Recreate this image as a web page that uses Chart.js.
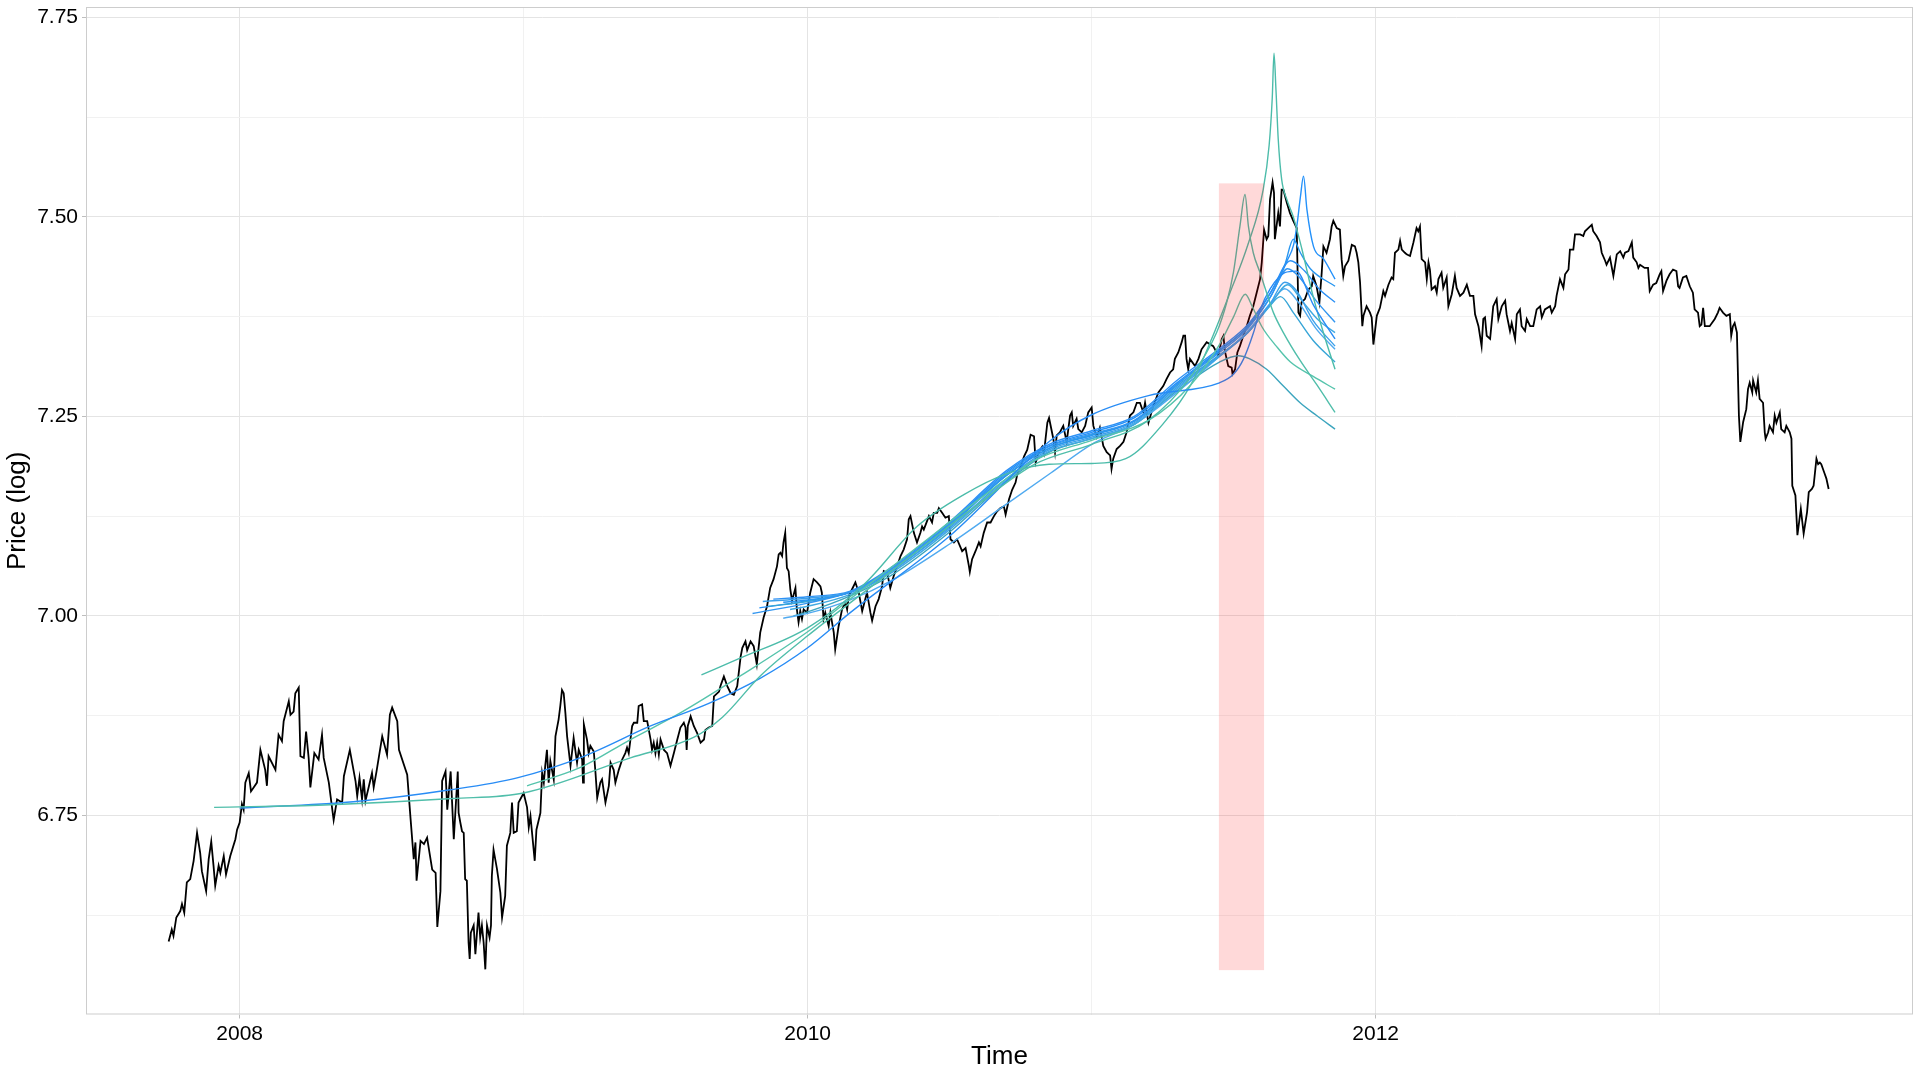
<!DOCTYPE html>
<html>
<head>
<meta charset="utf-8">
<script src="https://cdn.jsdelivr.net/npm/chart.js@4.4.1/dist/chart.umd.min.js"></script>
<style>
  html, body { margin: 0; padding: 0; background: #fff; }
  #wrap { width: 1920px; height: 1080px; }
</style>
</head>
<body>
<div id="wrap"><canvas id="myChart" width="1920" height="1080"></canvas></div>
<script>
// axis limits and ticks
const xLimits = [2007.459, 2013.892];
const yLimits = [6.5004, 7.763];
const xMajorTicks = [2008, 2010, 2012];
const xMinorTicks = [2009, 2011, 2013];
const yMajorTicks = [6.75, 7.00, 7.25, 7.50, 7.75];
const yMinorTicks = [6.625, 6.875, 7.125, 7.375, 7.625];

// shaded window (time, log price)
const shadeX = [2011.448, 2011.607];
const shadeY = [6.556, 7.542];

// observed log price, [time, value]
const price2007 = [[2007.750,6.592],[2007.761,6.607],[2007.767,6.599],[2007.777,6.622],[2007.791,6.630],[2007.797,6.639],[2007.805,6.628],[2007.814,6.666],[2007.826,6.670],[2007.838,6.693],[2007.850,6.728],[2007.861,6.703],[2007.867,6.680],[2007.882,6.655],[2007.891,6.695],[2007.900,6.717],[2007.908,6.687],[2007.914,6.662],[2007.926,6.687],[2007.932,6.678],[2007.944,6.699],[2007.952,6.676],[2007.967,6.699],[2007.985,6.720],[2007.991,6.732]];
const price2008 = [[2008.000,6.741],[2008.008,6.764],[2008.014,6.757],[2008.020,6.791],[2008.032,6.803],[2008.040,6.780],[2008.061,6.791],[2008.073,6.832],[2008.090,6.807],[2008.096,6.787],[2008.102,6.824],[2008.126,6.807],[2008.137,6.851],[2008.149,6.843],[2008.155,6.868],[2008.173,6.893],[2008.179,6.876],[2008.190,6.880],[2008.196,6.903],[2008.208,6.910],[2008.214,6.824],[2008.226,6.822],[2008.234,6.855],[2008.243,6.822],[2008.249,6.785],[2008.263,6.828],[2008.278,6.820],[2008.290,6.851],[2008.296,6.822],[2008.314,6.791],[2008.331,6.744],[2008.343,6.770],[2008.361,6.766],[2008.367,6.799],[2008.388,6.832],[2008.408,6.793],[2008.414,6.774],[2008.422,6.797],[2008.431,6.770],[2008.437,6.795],[2008.443,6.768],[2008.466,6.803],[2008.472,6.785],[2008.482,6.805],[2008.502,6.849],[2008.519,6.826],[2008.529,6.876],[2008.537,6.885],[2008.555,6.868],[2008.561,6.832],[2008.590,6.801],[2008.602,6.745],[2008.613,6.695],[2008.619,6.716],[2008.623,6.668],[2008.637,6.718],[2008.649,6.714],[2008.660,6.722],[2008.678,6.682],[2008.690,6.678],[2008.696,6.610],[2008.707,6.655],[2008.713,6.793],[2008.725,6.805],[2008.731,6.757],[2008.743,6.805],[2008.754,6.720],[2008.768,6.805],[2008.771,6.753],[2008.777,6.741],[2008.783,6.730],[2008.789,6.728],[2008.794,6.670],[2008.800,6.668],[2008.806,6.591],[2008.810,6.570],[2008.814,6.603],[2008.824,6.612],[2008.830,6.576],[2008.841,6.628],[2008.847,6.597],[2008.853,6.612],[2008.859,6.591],[2008.865,6.557],[2008.871,6.612],[2008.880,6.597],[2008.885,6.612],[2008.888,6.674],[2008.894,6.707],[2008.906,6.683],[2008.918,6.653],[2008.924,6.622],[2008.935,6.649],[2008.941,6.712],[2008.953,6.728],[2008.959,6.766],[2008.965,6.728],[2008.976,6.730],[2008.982,6.766]];
const price2009 = [[2009.000,6.778],[2009.012,6.760],[2009.018,6.735],[2009.024,6.749],[2009.039,6.693],[2009.045,6.732],[2009.059,6.753],[2009.065,6.803],[2009.071,6.791],[2009.076,6.812],[2009.082,6.832],[2009.088,6.791],[2009.094,6.818],[2009.106,6.795],[2009.112,6.849],[2009.123,6.870],[2009.129,6.887],[2009.135,6.907],[2009.141,6.903],[2009.147,6.878],[2009.153,6.849],[2009.165,6.812],[2009.176,6.847],[2009.188,6.816],[2009.194,6.832],[2009.206,6.820],[2009.209,6.791],[2009.212,6.864],[2009.223,6.845],[2009.229,6.828],[2009.235,6.837],[2009.247,6.830],[2009.253,6.803],[2009.259,6.772],[2009.270,6.791],[2009.276,6.795],[2009.288,6.766],[2009.300,6.787],[2009.306,6.816],[2009.317,6.807],[2009.323,6.791],[2009.335,6.807],[2009.347,6.820],[2009.358,6.828],[2009.364,6.835],[2009.370,6.828],[2009.382,6.862],[2009.388,6.866],[2009.400,6.866],[2009.405,6.887],[2009.417,6.889],[2009.423,6.868],[2009.435,6.868],[2009.447,6.845],[2009.452,6.832],[2009.458,6.841],[2009.464,6.828],[2009.470,6.841],[2009.476,6.826],[2009.482,6.845],[2009.494,6.832],[2009.505,6.828],[2009.517,6.812],[2009.529,6.828],[2009.541,6.845],[2009.552,6.860],[2009.564,6.866],[2009.570,6.860],[2009.574,6.832],[2009.578,6.862],[2009.588,6.874],[2009.599,6.862],[2009.611,6.853],[2009.623,6.841],[2009.635,6.845],[2009.640,6.857],[2009.652,6.860],[2009.664,6.862],[2009.670,6.899],[2009.688,6.905],[2009.693,6.912],[2009.705,6.924],[2009.717,6.912],[2009.729,6.903],[2009.740,6.901],[2009.752,6.912],[2009.764,6.949],[2009.770,6.960],[2009.781,6.968],[2009.787,6.957],[2009.799,6.968],[2009.810,6.962],[2009.821,6.939],[2009.833,6.979],[2009.845,6.998],[2009.857,7.012],[2009.868,7.035],[2009.880,7.046],[2009.892,7.062],[2009.898,7.077],[2009.904,7.079],[2009.910,7.075],[2009.915,7.092],[2009.921,7.104],[2009.927,7.060],[2009.933,7.056],[2009.939,7.033],[2009.945,7.019],[2009.957,7.035],[2009.962,7.008],[2009.968,6.992],[2009.974,7.006],[2009.980,6.996],[2009.986,7.008],[2009.998,7.004]];
const price2010 = [[2010.009,7.029],[2010.021,7.046],[2010.033,7.042],[2010.045,7.037],[2010.050,7.029],[2010.056,6.996],[2010.062,7.004],[2010.074,6.987],[2010.080,7.004],[2010.092,6.979],[2010.097,6.958],[2010.109,6.987],[2010.121,7.008],[2010.133,7.017],[2010.139,7.008],[2010.145,7.025],[2010.156,7.033],[2010.168,7.042],[2010.180,7.029],[2010.192,7.006],[2010.203,7.021],[2010.209,7.029],[2010.221,7.004],[2010.227,6.994],[2010.239,7.012],[2010.250,7.021],[2010.262,7.037],[2010.268,7.056],[2010.280,7.054],[2010.291,7.035],[2010.303,7.050],[2010.315,7.062],[2010.327,7.075],[2010.338,7.083],[2010.350,7.096],[2010.356,7.121],[2010.362,7.125],[2010.374,7.104],[2010.385,7.092],[2010.397,7.104],[2010.403,7.112],[2010.409,7.108],[2010.427,7.125],[2010.438,7.117],[2010.444,7.129],[2010.456,7.129],[2010.462,7.135],[2010.474,7.129],[2010.485,7.123],[2010.497,7.125],[2010.503,7.096],[2010.515,7.092],[2010.526,7.096],[2010.544,7.081],[2010.556,7.085],[2010.568,7.062],[2010.571,7.055],[2010.579,7.071],[2010.591,7.081],[2010.603,7.092],[2010.609,7.087],[2010.620,7.104],[2010.632,7.117],[2010.644,7.117],[2010.656,7.125],[2010.667,7.131],[2010.679,7.135],[2010.691,7.137],[2010.697,7.127],[2010.709,7.146],[2010.720,7.158],[2010.732,7.167],[2010.738,7.177],[2010.750,7.187],[2010.762,7.200],[2010.773,7.208],[2010.785,7.227],[2010.797,7.225],[2010.803,7.192],[2010.815,7.206],[2010.826,7.212],[2010.832,7.204],[2010.844,7.242],[2010.850,7.248],[2010.865,7.222],[2010.871,7.205],[2010.877,7.226],[2010.888,7.230],[2010.900,7.238],[2010.912,7.218],[2010.924,7.251],[2010.930,7.255],[2010.935,7.238],[2010.947,7.247],[2010.953,7.234],[2010.965,7.230],[2010.977,7.238],[2010.988,7.255]];
const price2011 = [[2011.000,7.261],[2011.006,7.238],[2011.018,7.224],[2011.029,7.236],[2011.041,7.213],[2011.053,7.205],[2011.065,7.201],[2011.070,7.184],[2011.076,7.197],[2011.088,7.209],[2011.100,7.213],[2011.112,7.218],[2011.123,7.230],[2011.135,7.251],[2011.147,7.255],[2011.159,7.267],[2011.170,7.267],[2011.182,7.255],[2011.188,7.267],[2011.200,7.242],[2011.217,7.263],[2011.235,7.280],[2011.252,7.288],[2011.264,7.297],[2011.276,7.305],[2011.287,7.309],[2011.293,7.322],[2011.305,7.330],[2011.317,7.343],[2011.323,7.351],[2011.329,7.351],[2011.334,7.322],[2011.340,7.309],[2011.346,7.322],[2011.364,7.313],[2011.376,7.322],[2011.387,7.334],[2011.405,7.343],[2011.428,7.338],[2011.446,7.326],[2011.458,7.347],[2011.464,7.351],[2011.469,7.332],[2011.481,7.313],[2011.493,7.311],[2011.496,7.303],[2011.505,7.309],[2011.513,7.330],[2011.522,7.338],[2011.534,7.351],[2011.546,7.363],[2011.557,7.376],[2011.569,7.388],[2011.581,7.405],[2011.593,7.422],[2011.599,7.443],[2011.607,7.484],[2011.616,7.472],[2011.622,7.476],[2011.628,7.522],[2011.637,7.543],[2011.642,7.530],[2011.645,7.472],[2011.657,7.505],[2011.663,7.488],[2011.669,7.534],[2011.675,7.534],[2011.687,7.518],[2011.698,7.505],[2011.710,7.495],[2011.722,7.486],[2011.728,7.380],[2011.734,7.376],[2011.739,7.393],[2011.751,7.397],[2011.763,7.409],[2011.775,7.413],[2011.780,7.426],[2011.792,7.413],[2011.802,7.393],[2011.810,7.430],[2011.816,7.463],[2011.827,7.455],[2011.839,7.472],[2011.845,7.488],[2011.851,7.495],[2011.863,7.486],[2011.874,7.484],[2011.880,7.447],[2011.886,7.426],[2011.892,7.438],[2011.904,7.445],[2011.916,7.465],[2011.927,7.463],[2011.933,7.455],[2011.939,7.443],[2011.945,7.418],[2011.953,7.363],[2011.957,7.376],[2011.968,7.388],[2011.980,7.380],[2011.986,7.374],[2011.992,7.340]];
const price2012 = [[2012.004,7.376],[2012.015,7.386],[2012.027,7.407],[2012.033,7.401],[2012.045,7.415],[2012.056,7.424],[2012.062,7.422],[2012.068,7.455],[2012.080,7.459],[2012.086,7.470],[2012.092,7.459],[2012.103,7.455],[2012.109,7.453],[2012.121,7.451],[2012.133,7.468],[2012.144,7.486],[2012.150,7.482],[2012.156,7.488],[2012.162,7.447],[2012.174,7.443],[2012.180,7.422],[2012.186,7.443],[2012.191,7.434],[2012.197,7.409],[2012.209,7.413],[2012.215,7.405],[2012.221,7.422],[2012.232,7.430],[2012.238,7.411],[2012.250,7.424],[2012.256,7.388],[2012.268,7.403],[2012.279,7.426],[2012.285,7.411],[2012.297,7.401],[2012.309,7.405],[2012.321,7.415],[2012.332,7.401],[2012.344,7.401],[2012.350,7.378],[2012.362,7.363],[2012.373,7.338],[2012.379,7.372],[2012.385,7.374],[2012.391,7.351],[2012.403,7.347],[2012.414,7.388],[2012.426,7.397],[2012.432,7.372],[2012.444,7.388],[2012.456,7.395],[2012.461,7.378],[2012.473,7.357],[2012.479,7.367],[2012.491,7.347],[2012.497,7.378],[2012.508,7.384],[2012.514,7.363],[2012.526,7.357],[2012.532,7.372],[2012.544,7.363],[2012.555,7.363],[2012.567,7.384],[2012.579,7.388],[2012.585,7.374],[2012.596,7.384],[2012.614,7.388],[2012.620,7.380],[2012.632,7.388],[2012.637,7.401],[2012.649,7.422],[2012.661,7.411],[2012.667,7.428],[2012.679,7.434],[2012.684,7.459],[2012.696,7.459],[2012.702,7.478],[2012.720,7.478],[2012.731,7.476],[2012.737,7.482],[2012.755,7.488],[2012.761,7.490],[2012.766,7.482],[2012.778,7.476],[2012.790,7.468],[2012.796,7.455],[2012.808,7.445],[2012.813,7.440],[2012.825,7.449],[2012.837,7.426],[2012.849,7.453],[2012.861,7.457],[2012.872,7.449],[2012.878,7.455],[2012.890,7.457],[2012.902,7.468],[2012.907,7.449],[2012.919,7.443],[2012.925,7.436],[2012.931,7.440],[2012.947,7.436],[2012.959,7.436],[2012.965,7.407],[2012.977,7.415],[2012.988,7.417]];
const price2013 = [[2013.000,7.428],[2013.006,7.432],[2013.012,7.407],[2013.024,7.420],[2013.035,7.428],[2013.047,7.434],[2013.059,7.432],[2013.065,7.413],[2013.070,7.411],[2013.082,7.424],[2013.094,7.426],[2013.106,7.413],[2013.117,7.405],[2013.123,7.384],[2013.135,7.380],[2013.141,7.363],[2013.147,7.365],[2013.153,7.386],[2013.159,7.363],[2013.176,7.363],[2013.194,7.372],[2013.205,7.380],[2013.211,7.386],[2013.223,7.380],[2013.235,7.376],[2013.247,7.378],[2013.252,7.351],[2013.258,7.363],[2013.264,7.367],[2013.272,7.355],[2013.279,7.251],[2013.284,7.218],[2013.294,7.243],[2013.305,7.259],[2013.311,7.284],[2013.317,7.292],[2013.326,7.280],[2013.329,7.295],[2013.340,7.280],[2013.346,7.295],[2013.352,7.272],[2013.364,7.267],[2013.370,7.230],[2013.373,7.222],[2013.382,7.230],[2013.387,7.238],[2013.399,7.230],[2013.405,7.251],[2013.411,7.242],[2013.423,7.255],[2013.428,7.234],[2013.440,7.230],[2013.446,7.238],[2013.458,7.230],[2013.464,7.222],[2013.467,7.163],[2013.478,7.151],[2013.485,7.101],[2013.497,7.134],[2013.507,7.103],[2013.519,7.130],[2013.525,7.155],[2013.536,7.159],[2013.542,7.163],[2013.552,7.197],[2013.558,7.190],[2013.564,7.192],[2013.569,7.190],[2013.581,7.178],[2013.587,7.172],[2013.595,7.159]];

// fitted trajectories, [time, value]
const fitTeal1 = [[2007.91,6.760],[2008.3,6.763],[2008.75,6.771],[2009.0,6.778],[2009.376,6.822],[2009.6,6.848],[2009.7,6.873],[2009.834,6.925],[2010.0,6.975],[2010.2,7.03],[2010.4,7.085],[2010.6,7.14],[2010.8,7.19],[2011.0,7.215],[2011.2,7.245],[2011.35,7.30],[2011.44,7.355],[2011.475,7.392],[2011.499,7.43],[2011.522,7.488],[2011.540,7.528],[2011.552,7.488],[2011.569,7.455],[2011.593,7.43],[2011.616,7.405],[2011.64,7.38],[2011.675,7.355],[2011.734,7.32],[2011.792,7.29],[2011.857,7.255]];
const fitBlue0 = [[2008.0,6.759],[2008.4,6.767],[2008.742,6.782],[2008.977,6.797],[2009.212,6.824],[2009.447,6.862],[2009.65,6.89],[2009.834,6.922],[2010.0,6.96],[2010.15,7.004],[2010.5,7.10],[2010.856,7.22],[2011.0,7.252],[2011.2,7.276],[2011.45,7.292],[2011.50,7.303],[2011.535,7.322],[2011.57,7.355],[2011.594,7.384],[2011.629,7.41],[2011.68,7.43],[2011.72,7.432],[2011.78,7.39],[2011.857,7.347]];
const fitTeal2 = [[2009.012,6.787],[2009.2,6.81],[2009.376,6.845],[2009.55,6.878],[2009.76,6.924],[2010.0,6.98],[2010.2,7.035],[2010.4,7.09],[2010.6,7.145],[2010.8,7.195],[2011.0,7.22],[2011.2,7.245],[2011.35,7.29],[2011.45,7.34],[2011.5,7.375],[2011.541,7.403],[2011.565,7.388],[2011.6,7.362],[2011.65,7.338],[2011.7,7.318],[2011.78,7.30],[2011.857,7.284]];
const fitTeal3 = [[2009.626,6.926],[2009.762,6.947],[2010.0,6.985],[2010.2,7.04],[2010.385,7.112],[2010.55,7.152],[2010.7,7.178],[2010.85,7.19],[2011.0,7.191],[2011.12,7.197],[2011.25,7.24],[2011.35,7.29],[2011.42,7.345],[2011.487,7.405],[2011.55,7.465],[2011.604,7.534],[2011.625,7.59],[2011.636,7.65],[2011.642,7.705],[2011.649,7.659],[2011.657,7.597],[2011.669,7.547],[2011.687,7.522],[2011.71,7.50],[2011.74,7.46],[2011.78,7.40],[2011.82,7.35],[2011.857,7.309]];
const fitBlue1 = [[2009.806,7.003],[2010.0,7.016],[2010.15,7.03],[2010.3,7.06],[2010.5,7.115],[2010.7,7.178],[2010.85,7.212],[2011.0,7.228],[2011.15,7.245],[2011.3,7.29],[2011.45,7.33],[2011.55,7.36],[2011.63,7.40],[2011.69,7.435],[2011.73,7.425],[2011.79,7.395],[2011.857,7.368]];
const fitBlue2 = [[2009.842,7.018],[2010.0,7.022],[2010.15,7.03],[2010.3,7.058],[2010.5,7.11],[2010.7,7.172],[2010.85,7.208],[2011.0,7.224],[2011.15,7.242],[2011.3,7.286],[2011.45,7.326],[2011.55,7.355],[2011.63,7.392],[2011.68,7.418],[2011.72,7.408],[2011.78,7.37],[2011.857,7.338]];
const fitBlue3 = [[2009.879,7.021],[2010.0,7.024],[2010.15,7.031],[2010.3,7.062],[2010.5,7.118],[2010.7,7.182],[2010.85,7.215],[2011.0,7.232],[2011.15,7.25],[2011.3,7.295],[2011.45,7.335],[2011.55,7.365],[2011.63,7.405],[2011.7,7.445],[2011.75,7.432],[2011.8,7.41],[2011.857,7.393]];
const fitBlue4 = [[2009.914,7.017],[2010.0,7.02],[2010.15,7.029],[2010.3,7.057],[2010.5,7.112],[2010.7,7.176],[2010.85,7.21],[2011.0,7.226],[2011.15,7.244],[2011.3,7.29],[2011.45,7.332],[2011.55,7.363],[2011.63,7.405],[2011.68,7.44],[2011.71,7.472],[2011.735,7.455],[2011.77,7.435],[2011.857,7.413]];
const fitBlue5 = [[2009.938,7.008],[2010.0,7.012],[2010.15,7.027],[2010.3,7.055],[2010.5,7.108],[2010.7,7.17],[2010.85,7.206],[2011.0,7.222],[2011.15,7.24],[2011.3,7.284],[2011.45,7.325],[2011.55,7.355],[2011.63,7.39],[2011.69,7.415],[2011.74,7.395],[2011.8,7.37],[2011.857,7.355]];
const fitBlue6 = [[2009.914,6.997],[2010.0,7.003],[2010.15,7.02],[2010.3,7.045],[2010.5,7.09],[2010.7,7.14],[2010.856,7.179],[2011.0,7.215],[2011.15,7.24],[2011.3,7.28],[2011.45,7.325],[2011.55,7.357],[2011.63,7.392],[2011.68,7.41],[2011.73,7.392],[2011.79,7.36],[2011.857,7.334]];
const fitBlue7 = [[2009.86,7.012],[2010.0,7.018],[2010.15,7.03],[2010.3,7.06],[2010.5,7.114],[2010.7,7.176],[2010.85,7.21],[2011.0,7.227],[2011.15,7.244],[2011.3,7.288],[2011.45,7.327],[2011.55,7.355],[2011.62,7.385],[2011.665,7.40],[2011.71,7.38],[2011.78,7.345],[2011.857,7.318]];
const fitBlueSpike = [[2009.83,7.01],[2010.0,7.019],[2010.15,7.03],[2010.3,7.06],[2010.5,7.116],[2010.7,7.18],[2010.85,7.213],[2011.0,7.23],[2011.15,7.248],[2011.3,7.292],[2011.45,7.333],[2011.55,7.362],[2011.63,7.40],[2011.688,7.445],[2011.711,7.465],[2011.723,7.49],[2011.735,7.525],[2011.746,7.551],[2011.758,7.509],[2011.781,7.463],[2011.817,7.447],[2011.857,7.422]];
const fitSteel = [[2009.95,7.0],[2010.0,7.005],[2010.15,7.025],[2010.3,7.052],[2010.5,7.105],[2010.7,7.168],[2010.85,7.205],[2011.0,7.222],[2011.15,7.24],[2011.3,7.282],[2011.45,7.318],[2011.516,7.326],[2011.557,7.322],[2011.616,7.309],[2011.675,7.288],[2011.734,7.267],[2011.792,7.251],[2011.857,7.234]];

const fits = [
  [fitTeal1, 'rgb(80,190,170)'],
  [fitBlue0, 'rgb(40,140,245)'],
  [fitTeal2, 'rgb(86,196,172)'],
  [fitTeal3, 'rgb(76,188,170)'],
  [fitBlue1, 'rgb(50,150,240)'],
  [fitBlue2, 'rgb(60,160,235)'],
  [fitBlue3, 'rgb(45,145,245)'],
  [fitBlue4, 'rgb(40,150,240)'],
  [fitBlue5, 'rgb(65,170,225)'],
  [fitBlue6, 'rgb(80,170,240)'],
  [fitBlue7, 'rgb(55,165,215)'],
  [fitBlueSpike, 'rgb(35,145,250)'],
  [fitSteel, 'rgb(60,165,190)']
];

const priceSeries = [].concat(price2007, price2008, price2009, price2010, price2011, price2012, price2013);

function isIn(list, v){
  return list.some(m => Math.abs(m - v) < 1e-9);
}

const panelPlugin = {
  id: 'panel',
  afterDatasetsDraw(chart){
    const ctx = chart.ctx;
    const a = chart.chartArea;
    const x = chart.scales.x;
    const y = chart.scales.y;
    ctx.save();
    const x0 = x.getPixelForValue(shadeX[0]);
    const x1 = x.getPixelForValue(shadeX[1]);
    const y0 = y.getPixelForValue(shadeY[1]);
    const y1 = y.getPixelForValue(shadeY[0]);
    ctx.fillStyle = 'rgba(255,0,0,0.15)';
    ctx.fillRect(x0, y0, x1 - x0, y1 - y0);
    ctx.strokeStyle = 'rgb(205,205,205)';
    ctx.lineWidth = 1;
    ctx.strokeRect(a.left + 0.5, a.top + 0.5, a.right - a.left - 1, a.bottom - a.top - 1);
    ctx.restore();
  }
};

const datasets = [{
  data: priceSeries.map(p => ({x: p[0], y: p[1]})),
  borderColor: '#000000',
  borderWidth: 1.8,
  pointRadius: 0,
  tension: 0,
  order: 2
}];
fits.forEach(f => {
  datasets.push({
    data: f[0].map(p => ({x: p[0], y: p[1]})),
    borderColor: f[1],
    borderWidth: 1.4,
    pointRadius: 0,
    cubicInterpolationMode: 'monotone',
    order: 1
  });
});

Chart.defaults.font.family = '"Liberation Sans", Arial, sans-serif';
Chart.defaults.color = '#000000';

const ctx = document.getElementById('myChart');
const myChart = new Chart(ctx, {
  type: 'line',
  data: { datasets: datasets },
  options: {
    responsive: false,
    animation: false,
    devicePixelRatio: 1,
    layout: { padding: { top: 7, right: 7, left: 0, bottom: 0 } },
    plugins: { legend: { display: false }, tooltip: { enabled: false } },
    scales: {
      x: {
        type: 'linear',
        min: xLimits[0],
        max: xLimits[1],
        afterBuildTicks: s => { s.ticks = xMajorTicks.concat(xMinorTicks).sort((a, b) => a - b).map(v => ({value: v})); },
        afterFit: s => { s.height = 65.5; s.paddingLeft = 0; s.paddingRight = 0; },
        ticks: {
          autoSkip: false, maxRotation: 0, padding: 3,
          font: { size: 21 },
          callback: v => isIn(xMajorTicks, v) ? String(v) : ''
        },
        grid: {
          color: c => (c.tick && isIn(xMajorTicks, c.tick.value)) ? 'rgb(228,228,228)' : 'rgb(241,241,241)',
          tickColor: c => (c.tick && isIn(xMajorTicks, c.tick.value)) ? 'rgb(190,190,190)' : 'rgba(0,0,0,0)',
          tickLength: 4
        },
        border: { display: false },
        title: { display: true, text: 'Time', font: { size: 26 }, padding: { top: 0, bottom: 8 } }
      },
      y: {
        type: 'linear',
        min: yLimits[0],
        max: yLimits[1],
        afterBuildTicks: s => { s.ticks = yMajorTicks.concat(yMinorTicks).sort((a, b) => a - b).map(v => ({value: v})); },
        afterFit: s => { s.width = 86; s.paddingTop = 0; s.paddingBottom = 0; },
        ticks: {
          autoSkip: false, padding: 4,
          font: { size: 21 },
          callback: v => isIn(yMajorTicks, v) ? v.toFixed(2) : ''
        },
        grid: {
          color: c => (c.tick && isIn(yMajorTicks, c.tick.value)) ? 'rgb(228,228,228)' : 'rgb(241,241,241)',
          tickColor: c => (c.tick && isIn(yMajorTicks, c.tick.value)) ? 'rgb(190,190,190)' : 'rgba(0,0,0,0)',
          tickLength: 4
        },
        border: { display: false },
        title: { display: true, text: 'Price (log)', font: { size: 26 }, padding: { top: 2, bottom: 0 } }
      }
    }
  },
  plugins: [panelPlugin]
});
</script>
</body>
</html>
